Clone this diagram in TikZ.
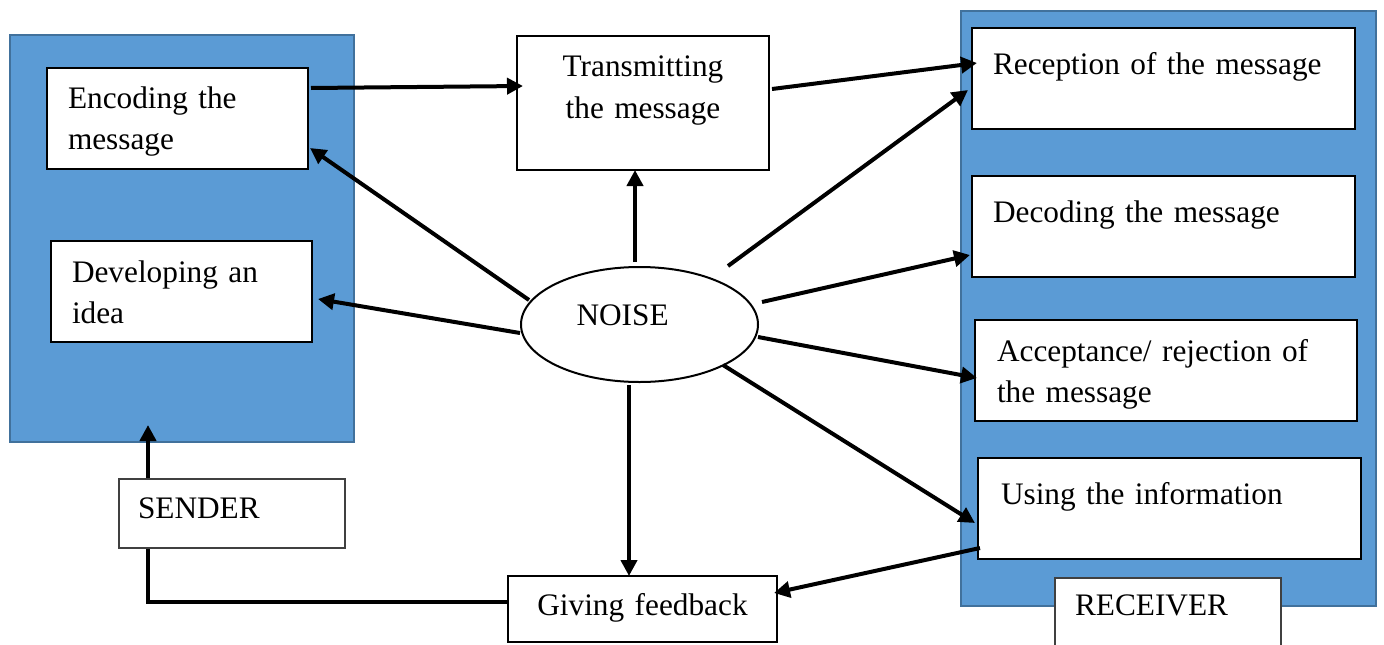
\documentclass[tikz,border=0pt]{standalone}
\usepackage{fontspec}
\setmainfont{Liberation Serif}
\usetikzlibrary{arrows.meta,calc,shapes.geometric}
\definecolor{areablue}{HTML}{5B9BD5}
\definecolor{areaedge}{HTML}{41719C}
\definecolor{labeledge}{HTML}{404040}
\begin{document}
\begin{tikzpicture}[x=1pt,y=-1pt,
  every node/.style={outer sep=0pt},
  area/.style={draw=areaedge, fill=areablue, line width=1.5pt, anchor=north west, inner sep=0pt},
  tbox/.style={draw=black, fill=white, line width=2.5pt, anchor=north west, inner ysep=0pt, align=left, font=\fontsize{31.3}{41}\selectfont},
  lbl/.style={draw=labeledge, fill=white, line width=1.3pt, anchor=north west, inner ysep=0pt, align=left, font=\fontsize{31.3}{41}\selectfont},
  arr/.style={line width=4pt, -{Triangle[length=16pt,width=16pt]}},
]
\useasboundingbox (0,0) rectangle (1384,645);
\fill[white] (0,0) rectangle (1384,645);

% regions
\node[area, minimum width=344pt, minimum height=407pt] (senderarea) at (10,35) {};
\node[area, minimum width=415pt, minimum height=595pt] (receiverarea) at (961,11) {};

% sender boxes
\node[tbox, inner xsep=21pt, text width=219pt, text height=40pt, text depth=61pt] (enc) at (47,68) {Encoding the\\message};
\node[tbox, inner xsep=21pt, text width=219pt, text height=41pt, text depth=60pt] (dev) at (51,241) {Developing an\\idea};

% middle
\node[tbox, align=center, inner xsep=10pt, text width=232pt, text height=40pt, text depth=94pt, font=\fontsize{31.3}{42}\selectfont] (trans) at (517,36) {Transmitting\\the message};
\node[draw=black, fill=white, line width=2pt, ellipse, minimum width=237pt, minimum height=115pt, inner sep=0pt, text width=126pt, align=left, text height=12pt, text depth=11pt, font=\fontsize{31.3}{41}\selectfont] (noise) at (639.5,324.5) {NOISE};
\node[tbox, align=center, inner xsep=10pt, text width=249pt, text height=39pt, text depth=27pt] (fb) at (508,576) {Giving feedback};

% receiver boxes
\node[tbox, inner xsep=21pt, text width=341pt, text height=46pt, text depth=55pt] (rec) at (972,28) {Reception of the message};
\node[tbox, inner xsep=21pt, text width=341pt, text height=46pt, text depth=55pt] (dec) at (972,176) {Decoding the message};
\node[tbox, inner xsep=22pt, text width=338pt, text height=41pt, text depth=60pt] (acc) at (975,320) {Acceptance/ rejection of\\the message};
\node[tbox, inner xsep=23pt, text width=337pt, text height=46pt, text depth=55pt] (use) at (978,458) {Using the information};

% connectors
\draw[arr] ($(enc.north east)+(3,20)$) -- ($(trans.north west)+(6,50)$);
\draw[arr] ($(trans.north east)+(3,53)$) -- ($(rec.north west)+(5,35)$);
\draw[arr] ($(noise.center)+(88.5,-58.5)$) -- ($(rec.north west)+(-4,62)$);
\draw[arr] ($(noise.center)+(122.5,-22.5)$) -- ($(dec.north west)+(-2,79)$);
\draw[arr] ($(noise.center)+(118.5,12.5)$) -- ($(acc.north west)+(2,58)$);
\draw[arr] ($(noise.center)+(83.5,40.5)$) -- ($(use.north west)+(-3,65)$);
\draw[arr] ($(noise.center)+(-4.5,-62.5)$) -- ($(trans.south)+(-8,0)$);
\draw[arr] ($(noise.center)+(-110.5,-24.5)$) -- ($(enc.south east)+(2,-21)$);
\draw[arr] ($(noise.center)+(-119.5,8.5)$) -- ($(dev.north east)+(6,58)$);
\draw[arr] ($(noise.center)+(-10.5,60.5)$) -- ($(fb.north)+(-13.5,0)$);
\draw[arr] ($(use.south west)+(2,-11)$) -- ($(fb.north east)+(-3,17)$);
\draw[arr] ($(fb.west)+(0,-7)$) -| ($(senderarea.south west)+(138,-17)$);

% labels
\node[lbl, inner xsep=19pt, text width=188pt, text height=39pt, text depth=30pt] (sender) at (119,479) {SENDER};
\node[lbl, inner xsep=20pt, text width=186pt, text height=37pt, text depth=43pt] (receiver) at (1055,578) {RECEIVER};
\end{tikzpicture}
\end{document}
